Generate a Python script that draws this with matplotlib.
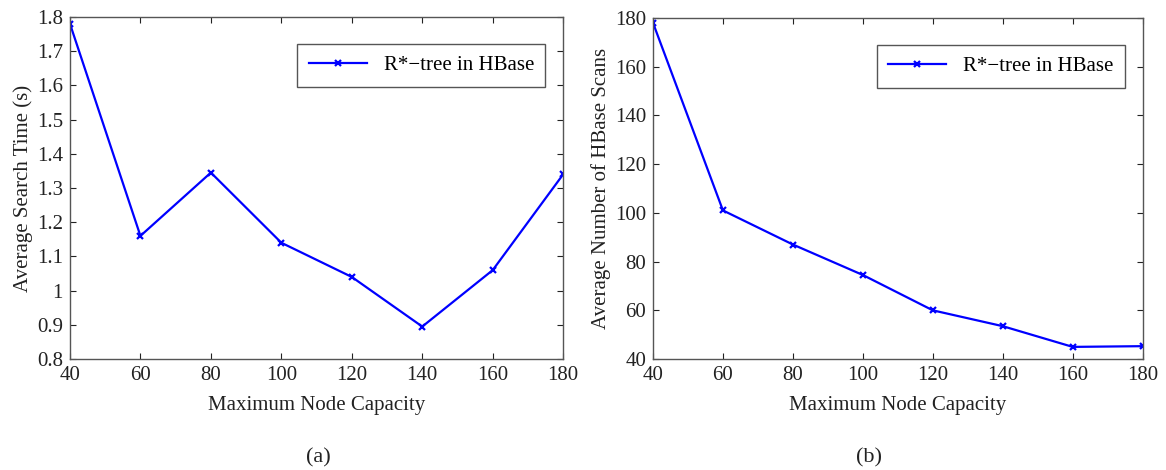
import numpy as np
from matplotlib import pyplot as plt

# node capacities and measured results
capacity = [40, 60, 80, 100, 120, 140, 160, 180]
search_time = [1.78, 1.16, 1.345, 1.14, 1.04, 0.895, 1.06, 1.34]
num_scans = [178, 101, 87, 74.5, 60, 53.5, 45, 45.3]

series_label = 'R*\u2212tree in HBase'
x_label = 'Maximum Node Capacity'
y_labels = ['Average Search Time (s)', 'Average Number of HBase Scans']
y_ticks = [np.arange(0.8, 1.81, 0.1), np.arange(40, 181, 20)]
y_ticklabels = [['0.8', '0.9', '1', '1.1', '1.2', '1.3', '1.4', '1.5', '1.6', '1.7', '1.8'],
                [str(v) for v in range(40, 181, 20)]]
captions = ['(a)', '(b)']

plt.rcParams['font.family'] = ['Liberation Serif', 'DejaVu Serif']
plt.rcParams['font.size'] = 14

fig = plt.figure(figsize=(11.66, 4.70), dpi=100)
boxes = [[0.060, 0.236, 0.423, 0.728], [0.560, 0.236, 0.420, 0.726]]
caption_x = [0.273, 0.745]

for i, ys in enumerate([search_time, num_scans]):
    ax = fig.add_axes(boxes[i])
    ax.plot(capacity, ys, color='#0000ff', lw=1.6, marker='x', ms=5, mew=1.6,
            label=series_label)
    ax.set_xlim(40, 180)
    ax.set_xticks(capacity)
    ax.set_ylim(y_ticks[i][0], y_ticks[i][-1])
    ax.set_yticks(y_ticks[i])
    ax.set_yticklabels(y_ticklabels[i])
    ax.tick_params(direction='in', top=True, right=True, length=4, width=0.8,
                   labelsize=15, colors='#222222', pad=5)
    for s in ax.spines.values():
        s.set_color('#555555')
        s.set_linewidth(1.0)
    ax.set_xlabel(x_label, fontsize=15, labelpad=8, color='#222222')
    ax.set_ylabel(y_labels[i], fontsize=15, labelpad=3, color='#222222')
    leg = ax.legend(loc='upper right', bbox_to_anchor=(0.985, 0.95), fancybox=False,
                    edgecolor='#555555', framealpha=1, fontsize=15,
                    handlelength=2.8, borderpad=0.55)
    leg.get_frame().set_linewidth(1.0)
    fig.text(caption_x[i], 0.005, captions[i], ha='center', va='bottom', fontsize=16,
             color='#222222')

plt.savefig('out.png', dpi=100)
